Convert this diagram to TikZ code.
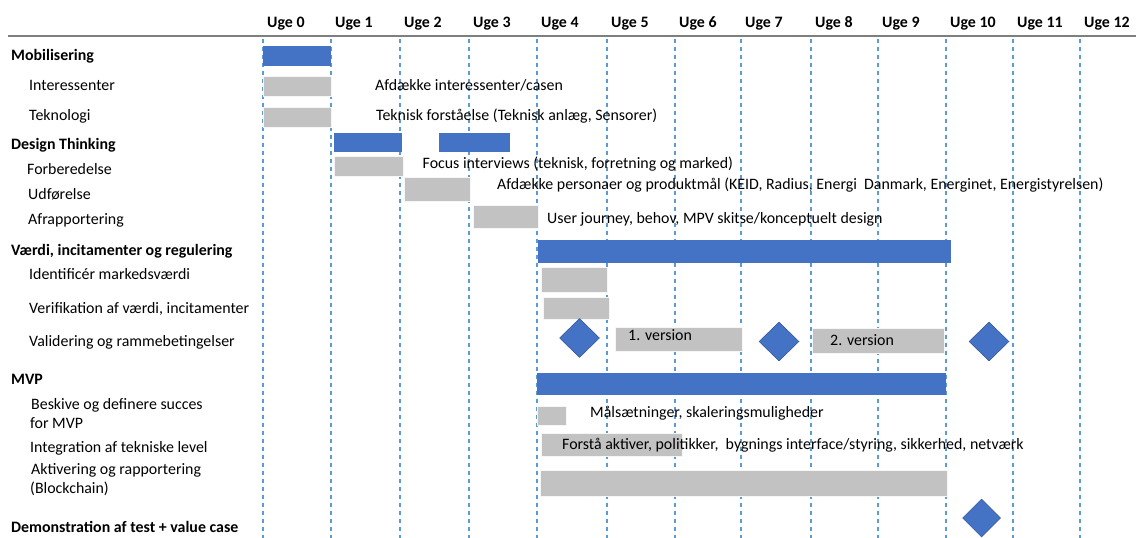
\documentclass[tikz,border=0pt]{standalone}
\usepackage{fontspec}
\setmainfont{Carlito}
\usetikzlibrary{shapes.geometric}
\definecolor{barblue}{HTML}{4472C4}
\definecolor{bargray}{HTML}{C3C2C3}
\definecolor{dashblue}{HTML}{5B9BD5}
\definecolor{rulegray}{HTML}{7F7F7F}
\definecolor{msborder}{HTML}{2F528F}
\tikzset{
  lbl/.style={anchor=west, inner sep=0pt, text height=0.9em, text depth=0em, font=\fontsize{15.9}{18}\selectfont},
  head/.style={lbl, font=\fontsize{15.9}{18}\selectfont\bfseries},
  bluebar/.style={fill=barblue},
  graybar/.style={fill=bargray, draw=white!85!bargray, line width=0.6pt},
  grid/.style={draw=dashblue, line width=1.2pt, dash pattern=on 4.5pt off 3.5pt},
  ms/.style={diamond, fill=barblue, draw=msborder, line width=0.5pt, inner sep=0pt, minimum width=40pt, minimum height=39pt}
}
\begin{document}
\begin{tikzpicture}[x=1pt,y=-1pt]
\useasboundingbox (0,0) rectangle (1136,538);
% header rule
\draw[rulegray, line width=2.6pt] (8,36) -- (1136,36);
% week columns
\foreach \xx [count=\i from 0] in {263,331,400,469,537,607,675,741,811,878,946,1013,1080} {
  \draw[grid] (\xx,38.5) -- (\xx,538);
  \node[head] (uge\i) at (\xx+4,23) {Uge \i};
}
% ---- bars
\path[bluebar] (263,46) rectangle (331,66);
\path[graybar] (263,76) rectangle (331,96);
\path[graybar] (263,107) rectangle (331,127);
\path[bluebar] (334,133) rectangle (402,152);
\path[bluebar] (439,133) rectangle (510,152);
\path[graybar] (334,156) rectangle (403,176);
\path[graybar] (404,177) rectangle (470,201);
\path[graybar] (473,205) rectangle (538,228);
\path[bluebar] (538,240) rectangle (951,263);
\path[graybar] (541,267) rectangle (607,292);
\path[graybar] (543,297) rectangle (609,319);
\path[graybar] (615,327) rectangle (742,351);
\path[graybar] (812,328) rectangle (944,353);
\path[bluebar] (537,373) rectangle (946,395);
\path[graybar] (537,406) rectangle (566,425);
\path[graybar] (541.5,433) rectangle (682.5,456);
\path[graybar] (540,470) rectangle (947,496);
% milestones
\node[ms] (m1) at (579.5,338) {};
\node[ms] (m2) at (779,341.5) {};
\node[ms] (m3) at (989,341.5) {};
\node[ms, minimum width=38pt, minimum height=38pt] (m4) at (981.5,518) {};
% ---- left labels
\node[head] (l1) at (11,56) {Mobilisering};
\node[lbl] (l2) at (29,86) {Interessenter};
\node[lbl] (l3) at (29,116) {Teknologi};
\node[head] (l4) at (11,145) {Design Thinking};
\node[lbl] (l5) at (27,170) {Forberedelse};
\node[lbl] (l6) at (28,195) {Udførelse};
\node[lbl] (l7) at (28,220) {Afrapportering};
\node[head] (l8) at (11,251) {Værdi, incitamenter og regulering};
\node[lbl] (l9) at (29,275) {Identificér markedsværdi};
\node[lbl] (l10) at (29,309) {Verifikation af værdi, incitamenter};
\node[lbl] (l11) at (29,342) {Validering og rammebetingelser};
\node[head] (l12) at (11,380) {MVP};
\node[lbl] (l13) at (31,405) {Beskive og definere succes};
\node[lbl] (l13b) at (30,424) {for MVP};
\node[lbl] (l14) at (30,448) {Integration af tekniske level};
\node[lbl] (l15) at (31,470) {Aktivering og rapportering};
\node[lbl] (l15b) at (30,489) {(Blockchain)};
\node[head] (l16) at (11,528) {Demonstration af test + value case};
% ---- bar texts
\node[lbl] (d1) at (375,86) {Afdække interessenter/casen};
\node[lbl] (d2) at (376,116) {Teknisk forståelse (Teknisk anlæg, Sensorer)};
\node[lbl] (d3) at (422.5,164) {Focus interviews (teknisk, forretning og marked)};
\node[lbl] (d4) at (497,185) {Afdække personaer og produktmål (KEID, Radius, Energi\ \ Danmark, Energinet, Energistyrelsen)};
\node[lbl] (d5) at (547,219) {User journey, behov, MPV skitse/konceptuelt design};
\node[lbl] (d6) at (628,336) {1. version};
\node[lbl] (d7) at (830,341) {2. version};
\node[lbl] (d8) at (590,413) {Målsætninger, skaleringsmuligheder};
\node[lbl] (d9) at (562,445) {Forstå aktiver, politikker,\ \ bygnings interface/styring, sikkerhed, netværk};
\end{tikzpicture}
\end{document}
